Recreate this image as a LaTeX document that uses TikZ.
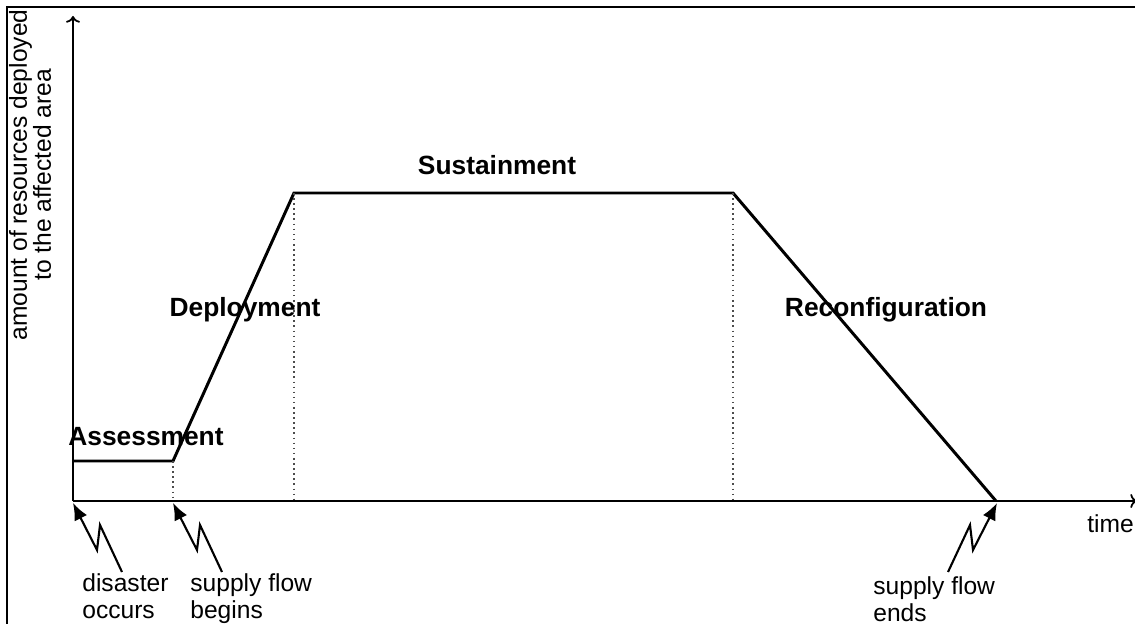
\documentclass[tikz,border=0pt]{standalone}
\usepackage{fontspec}
\setmainfont{Liberation Sans}
\usepackage{tikz}
\usetikzlibrary{arrows,arrows.meta}
\tikzstyle{curve}=[line width=1.7pt, color=black]
\tikzstyle{axis}=[line width=1pt, color=black, ->]
\tikzstyle{guide}=[line width=0.9pt, dotted, color=black!70]
\tikzstyle{phase}=[font=\fontsize{15}{17}\selectfont\bfseries, inner sep=0pt]
\tikzstyle{note}=[font=\fontsize{14}{15.4}\selectfont, align=left, inner sep=0pt, anchor=north west]
\tikzstyle{bolt}=[line width=1.2pt, -{Latex[length=3.4mm, width=2.8mm]}]

\begin{document}
\begin{tikzpicture}[x=0.02cm, y=-0.02cm]
			\useasboundingbox (0,0) rectangle (1135,624);
			% frame of the figure
			\draw[line width=1.6pt] (7,630) -- (7,7) -- (1140,7);
			% axes
			\coordinate (o) at (73,501);
			\coordinate (ytop) at (73,16);
			\coordinate (xend) at (1137,501);
			\draw[axis] (o) -- (ytop);
			\draw[axis] (o) -- (xend);
			% the supply curve
			\coordinate (a0) at (73,461);
			\coordinate (a1) at (173,461);
			\coordinate (d1) at (294,193);
			\coordinate (s1) at (733,193);
			\coordinate (r1) at (996,501);
			\draw[curve] (a0) -- (a1) -- (d1) -- (s1) -- (r1);
			% dotted phase limits, using a loop
			\foreach \p in {a1, d1, s1}{
				\draw[guide] (\p) -- (\p |- o);
			}
			% phase names
			\node[phase] (assess) at (146,437) {Assessment};
			\node[phase] (deploy) at (245,310) {Deployment};
			\node[phase] (sustain) at (497,165) {Sustainment};
			\node[phase] (reconf) at (886,310) {Reconfiguration};
			% axis labels
			\node[font=\fontsize{14}{13.7}\selectfont, align=center, rotate=90, inner sep=0pt] (ylab) at (30,175) {amount of resources deployed\\to the affected area};
			\node[note, anchor=west] (time) at (1087,524) {time};
			% events
			\node[note] (dis) at (82,573) {disaster\\occurs};
			\node[note] (begin) at (190,573) {supply flow\\begins};
			\node[note] (ends) at (873,576) {supply flow\\ends};
			\coordinate (b1) at (73,503);
			\coordinate (b2) at (173,503);
			\coordinate (b3) at (997,503);
			\draw[bolt] (122,572) -- (100,525) -- (97,550) -- (b1);
			\draw[bolt] (222,572) -- (200,525) -- (197,550) -- (b2);
			\draw[bolt] (948,572) -- (970,525) -- (973,550) -- (b3);
		\end{tikzpicture}
\end{document}
